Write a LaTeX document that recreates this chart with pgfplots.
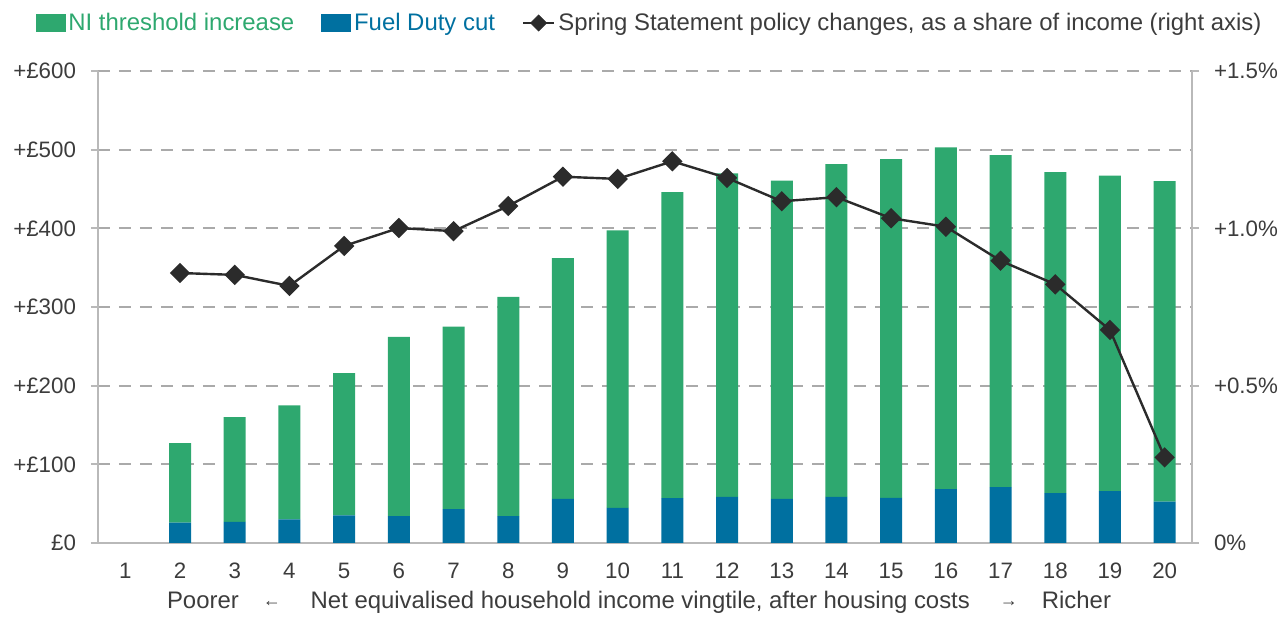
\documentclass[border=0pt]{standalone}
\usepackage{pgfplots}
\pgfplotsset{compat=1.18}
\usepackage{fontspec}
\setmainfont{Liberation Sans}
\definecolor{nigreen}{RGB}{46,168,111}
\definecolor{fdblue}{RGB}{0,112,160}
\definecolor{linec}{RGB}{43,43,43}
\definecolor{gridc}{RGB}{170,170,170}
\definecolor{axc}{RGB}{185,185,185}
\definecolor{txt}{RGB}{60,60,60}

\pgfplotstableread{
x fuel ni
2 26 101
3 27 133
4 30 145
5 35 181
6 34 228
7 43 232
8 34 279
9 56 306
10 44.5 353
11 57 389
12 58.5 411.5
13 56 404.5
14 58.5 423
15 57.5 430.5
16 68.5 434.5
17 71 422
18 63.5 408
19 66 401
20 52.5 407.5
}\bars

\pgfplotstableread{
x share
2 0.858
3 0.852
4 0.817
5 0.944
6 1.001
7 0.991
8 1.071
9 1.164
10 1.157
11 1.213
12 1.160
13 1.086
14 1.099
15 1.032
16 1.005
17 0.897
18 0.822
19 0.677
20 0.272
}\shares

\begin{document}
\begin{tikzpicture}
\begin{axis}[
  scale only axis, width=547bp, height=236bp,
  xmin=0.5, xmax=20.5, ymin=0, ymax=600,
  axis y line*=left, axis x line*=bottom,
  axis line style={axc, line width=0.9bp, -},
  ybar stacked, bar width=11bp,
  xtick={1,2,3,4,5,6,7,8,9,10,11,12,13,14,15,16,17,18,19,20},
  xticklabels={1,2,3,4,5,6,7,8,9,10,11,12,13,14,15,16,17,18,19,20},
  ytick={0,100,200,300,400,500,600},
  yticklabels={£0,+£100,+£200,+£300,+£400,+£500,+£600},
  ymajorgrids,
  grid style={gridc, line width=1bp, dash pattern=on 6bp off 4.5bp},
  tick align=outside, major tick length=3.5bp,
  ytick style={axc, line width=0.9bp},
  xtick style={draw=none},
  xticklabel style={yshift=-3bp},
  yticklabel style={xshift=-4bp},
  tick label style={font=\fontsize{11.2}{13}\selectfont, text=txt},
  xlabel={Poorer\hspace{12bp}\raisebox{1.2bp}{\fontsize{9}{9}\selectfont ←}\hspace{15bp}Net equivalised household income vingtile, after housing costs\hspace{15bp}\raisebox{1.2bp}{\fontsize{9}{9}\selectfont →}\hspace{12bp}Richer},
  xlabel style={font=\fontsize{12}{14}\selectfont, text=txt, yshift=0.5bp, xshift=-3bp},
  legend style={at={(0.5,1)}, anchor=center, yshift=24bp, xshift=2.5bp, draw=none, fill=none,
    legend columns=3, font=\fontsize{12}{14}\selectfont,
    nodes={inner sep=1.5bp},
    /tikz/every even column/.append style={column sep=12bp}},
]
\addlegendimage{legend image code/.code={\fill[nigreen] (0bp,-4.2bp) rectangle (14.5bp,4.2bp);}}
\addlegendimage{legend image code/.code={\fill[fdblue] (0bp,-4.2bp) rectangle (14.5bp,4.2bp);}}
\addlegendimage{legend image code/.code={\draw[linec, line width=1.2bp] (0bp,0bp) -- (15.5bp,0bp);
   \fill[linec] (7.75bp,0bp) +(0,4bp) -- +(4bp,0) -- +(0,-4bp) -- +(-4bp,0) -- cycle;}}
\addplot[fill=fdblue, draw=none, forget plot] table[x=x, y=fuel] {\bars};
\addplot[fill=nigreen, draw=none, forget plot] table[x=x, y=ni] {\bars};
\legend{\textcolor{nigreen}{NI threshold increase},\textcolor{fdblue}{Fuel Duty cut},\textcolor{txt}{Spring Statement policy changes, as a share of income (right axis)}}
\end{axis}
\begin{axis}[
  scale only axis, width=547bp, height=236bp,
  xmin=0.5, xmax=20.5, ymin=0, ymax=1.5,
  axis y line*=right, axis x line=none,
  axis line style={axc, line width=0.9bp, -},
  ytick={0,0.5,1,1.5},
  yticklabels={0\%,+0.5\%,+1.0\%,+1.5\%},
  tick align=outside, major tick length=3.5bp,
  ytick style={axc, line width=0.9bp},
  yticklabel style={xshift=4bp},
  tick label style={font=\fontsize{11.2}{13}\selectfont, text=txt},
]
\addplot[linec, line width=1.2bp, mark=square*, mark size=3bp,
  mark options={rotate=45, fill=linec, draw=linec}] table[x=x, y=share] {\shares};
\end{axis}
\path ([xshift=-49bp,yshift=-35.5bp]current axis.south west) rectangle ([xshift=48bp,yshift=35.5bp]current axis.north east);
\end{tikzpicture}
\end{document}
